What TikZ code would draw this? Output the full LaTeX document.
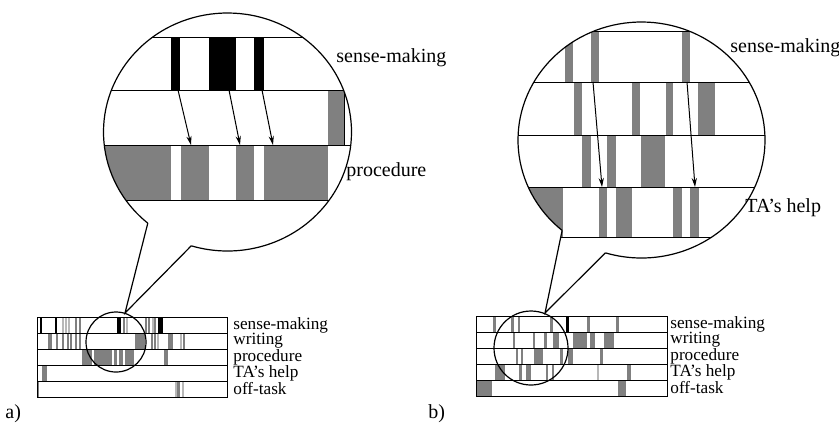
\documentclass[tikz,border=0pt]{standalone}
\usepackage{fontspec}
\setmainfont{Liberation Serif}
\usetikzlibrary{arrows.meta}
\definecolor{bargray}{gray}{0.5}
\definecolor{barlight}{gray}{0.72}
\tikzset{
  graybar/.style={fill=bargray},
  lightbar/.style={fill=barlight},
  blackbar/.style={fill=black},
  whitebar/.style={fill=white},
  rowline/.style={line width=0.45pt},
  lensline/.style={line width=0.6pt},
  zoomarrow/.style={line width=0.5pt, -{Stealth[length=4.5pt,width=2.6pt]}},
  lbl/.style={anchor=west, inner sep=0pt, font=\fontsize{8.6}{9}\selectfont},
  biglbl/.style={anchor=west, inner sep=0pt, font=\fontsize{10}{12}\selectfont},
}
\begin{document}
\begin{tikzpicture}[x=0.5pt, y=-0.5pt]
\useasboundingbox (0,0) rectangle (839,430);

% a) overview
\begin{scope}
\foreach \l/\r in {40/42,55/57,117/121,158/163} \fill[blackbar] (\l,317) rectangle (\r,333);
\foreach \l/\r in {75/76.5,79/80.5,123/124.5,145/146.5,148/149.5,154/155.5} \fill[graybar] (\l,317) rectangle (\r,333);
\foreach \l/\r in {62/63.5,65/66.5,68/69.5,126/127.5,152/153.5} \fill[lightbar] (\l,317) rectangle (\r,333);
\foreach \l/\r in {48/52,56/57.5,62/63.5,67/68.5,70/71.5,75/76.5,79/80.5,135/145,151/152.5,154/155.5,168/173,183/184.5} \fill[graybar] (\l,333) rectangle (\r,349);
\foreach \l/\r in {157/158.5,180/181.5} \fill[lightbar] (\l,333) rectangle (\r,349);
\fill[graybar] (82,349) rectangle (134,365);
\foreach \l/\r in {92/93.5,112/114,117/119,123/124.5} \fill[whitebar] (\l,349) rectangle (\r,365);
\fill[graybar] (164,349) rectangle (168,365);
\fill[graybar] (42,365) rectangle (47,381);
\foreach \l/\r in {37/39,177/180} \fill[graybar] (\l,381) rectangle (\r,397);
\foreach \l/\r in {175/176.5,182/183.5} \fill[lightbar] (\l,381) rectangle (\r,397);
\draw[rowline] (37,317) rectangle (227,397);
\foreach \y in {333,349,365,381} \draw[rowline] (37,\y) -- (227,\y);
\node[lbl] (a-sense) at (233,325) {sense-making};
\node[lbl] (a-writing) at (233,341) {writing};
\node[lbl] (a-proc) at (233,357) {procedure};
\node[lbl] (a-ta) at (233,373) {TA’s help};
\node[lbl] (a-off) at (233,389) {off-task};
\draw[lensline] (116,342) circle[radius=30];
\node[biglbl] (a-tag) at (5,414) {a)};
\end{scope}

% a) zoom
\coordinate (a-zoom) at (227.5,132);
\coordinate (a-apex) at (125,313);
\begin{scope}
\clip (a-zoom) ++(130:124 and 119) arc[start angle=130, end angle=467, x radius=124, y radius=119] -- (a-apex) -- cycle;
\foreach \l/\r in {171/180,209/236,254/264} \fill[blackbar] (\l,37) rectangle (\r,90);
\fill[graybar] (328,90) rectangle (344,145);
\foreach \l/\r in {90/171,181/209,236/254,264/328} \fill[graybar] (\l,145) rectangle (\r,200);
\foreach \y in {37,90,145,200} \draw[rowline] (90,\y) -- (360,\y);
\draw[rowline] (344,90) -- (344,145);
\end{scope}
\draw[lensline] (a-zoom) ++(130:124 and 119) coordinate (a-left) arc[start angle=130, end angle=467, x radius=124, y radius=119] coordinate (a-right);
\draw[lensline] (a-left) -- (a-apex) -- (a-right);
\coordinate (a-s1) at (178,90);  \coordinate (a-p1) at (191,145);
\coordinate (a-s2) at (229,90);  \coordinate (a-p2) at (240,145);
\coordinate (a-s3) at (262,90);  \coordinate (a-p3) at (273,145);
\foreach \i in {1,2,3} \draw[zoomarrow] (a-s\i) -- (a-p\i);
\node[biglbl] (a-zsense) at (336,58) {sense-making};
\node[biglbl] (a-zproc) at (346,172) {procedure};

% b) overview
\begin{scope}
\foreach \l/\r in {493/496,511/513.5,517.5/520,550/553,587/590,616/618.5} \fill[graybar] (\l,316) rectangle (\r,332);
\fill[blackbar] (566,316) rectangle (569,332);
\foreach \l/\r in {513/515,533/535,544/546.5,553/559,573/587,590/595,604/614} \fill[graybar] (\l,332) rectangle (\r,348);
\foreach \l/\r in {516/518,521/523,534/543,560/563,568/573,600/603} \fill[graybar] (\l,348) rectangle (\r,364);
\foreach \l/\r in {495/505,519/522,526/531,546/548,552/554,627/631} \fill[graybar] (\l,364) rectangle (\r,380);
\fill[lightbar] (597,364) rectangle (598.5,380);
\foreach \l/\r in {476/492,618/626} \fill[graybar] (\l,380) rectangle (\r,396);
\draw[rowline] (476,316) rectangle (667,396);
\foreach \y in {332,348,364,380} \draw[rowline] (476,\y) -- (667,\y);
\node[lbl] (b-sense) at (670,324) {sense-making};
\node[lbl] (b-writing) at (670,340) {writing};
\node[lbl] (b-proc) at (670,356) {procedure};
\node[lbl] (b-ta) at (670,372) {TA’s help};
\node[lbl] (b-off) at (670,388) {off-task};
\draw[lensline] (531,348) circle[radius=37];
\node[biglbl] (b-tag) at (428,414) {b)};
\end{scope}

% b) zoom
\coordinate (b-zoom) at (641.5,140);
\coordinate (b-apex) at (545,313);
\begin{scope}
\clip (b-zoom) ++(130:123.5 and 118) arc[start angle=130, end angle=467, x radius=123.5, y radius=118] -- (b-apex) -- cycle;
\foreach \l/\r in {565/573,591/599,682/690} \fill[graybar] (\l,31) rectangle (\r,82);
\foreach \l/\r in {574/582,632/640,666/673,698/715} \fill[graybar] (\l,82) rectangle (\r,135);
\foreach \l/\r in {582/591,607/616,641/665} \fill[graybar] (\l,135) rectangle (\r,187);
\foreach \l/\r in {500/563,599/607,616/632,673/682,690/699} \fill[graybar] (\l,187) rectangle (\r,237);
\foreach \y in {31,82,135,187,237} \draw[rowline] (505,\y) -- (775,\y);
\end{scope}
\draw[lensline] (b-zoom) ++(130:123.5 and 118) coordinate (b-left) arc[start angle=130, end angle=467, x radius=123.5, y radius=118] coordinate (b-right);
\draw[lensline] (b-left) -- (b-apex) -- (b-right);
\coordinate (b-s1) at (593,82);  \coordinate (b-t1) at (602,187);
\coordinate (b-s2) at (687,82);  \coordinate (b-t2) at (695,187);
\foreach \i in {1,2} \draw[zoomarrow] (b-s\i) -- (b-t\i);
\node[biglbl] (b-zsense) at (730,48) {sense-making};
\node[biglbl] (b-zta) at (745,208) {TA’s help};
\end{tikzpicture}
\end{document}
